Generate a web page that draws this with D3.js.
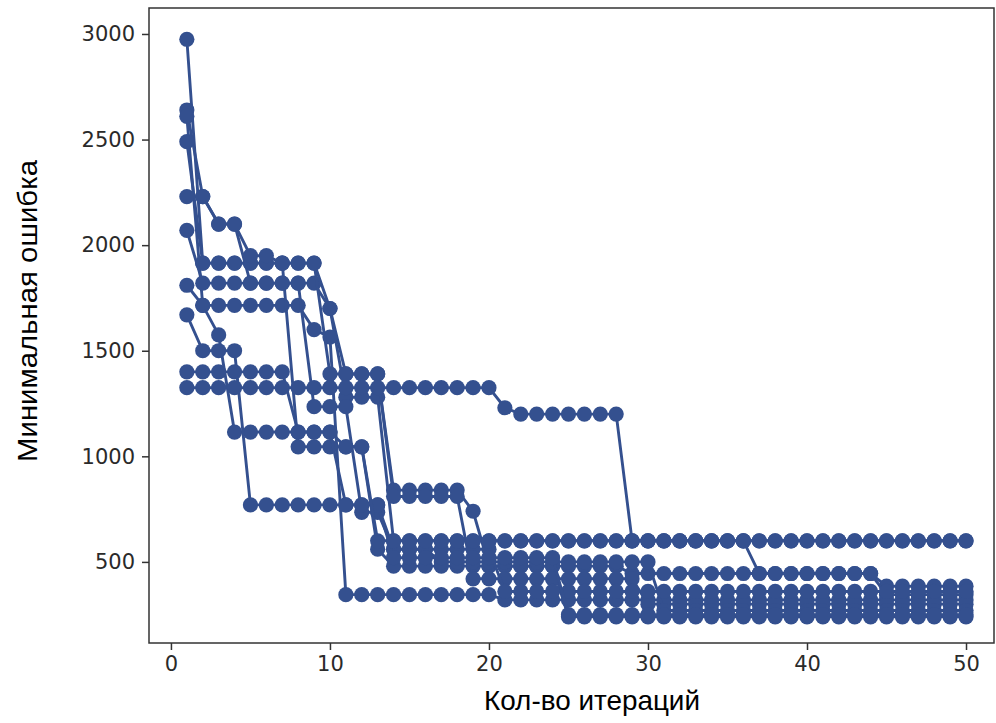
<!DOCTYPE html>
<html>
<head>
<meta charset="utf-8">
<script src="https://cdn.jsdelivr.net/npm/d3@7/dist/d3.min.js"></script>
<style>
  body { margin: 0; background: #ffffff; }
  svg { display: block; }
</style>
</head>
<body>
<svg id="chart" width="996" height="723"></svg>
<script>
// Iteration numbers on the x axis
const iterations = [1,2,3,4,5,6,7,8,9,10,11,12,13,14,15,16,17,18,19,20,
  21,22,23,24,25,26,27,28,29,30,31,32,33,34,35,36,37,38,39,40,
  41,42,43,44,45,46,47,48,49,50];

// Minimum error per iteration, one array per run
const run1 = [2975,1915,1915,1915,1915,1915,1915,1915,1915,1700,1390,1390,1390,840,840,840,840,840,740,480,
  480,480,480,480,480,480,480,480,445,445,445,445,445,445,445,445,445,445,445,445,
  445,445,445,445,385,385,385,385,385,385];
const run2 = [2640,2230,2100,2100,1820,1820,1820,1820,1820,1700,1280,1280,1280,600,600,600,600,600,600,600,
  600,600,600,600,600,600,600,600,600,600,600,600,600,600,600,600,445,445,445,445,
  445,445,445,445,345,345,345,345,345,345];
const run3 = [2610,1715,1715,1715,1715,1715,1715,1715,1600,1565,345,345,345,345,345,345,345,345,345,345,
  320,320,320,320,320,320,320,320,320,320,320,320,320,320,320,320,320,320,320,320,
  320,320,320,320,320,320,320,320,320,320];
const run4 = [2490,1915,1915,1915,1915,1915,1915,1045,1045,1045,1045,1045,560,480,480,480,480,480,480,480,
  480,480,480,480,240,240,240,240,240,240,240,240,240,240,240,240,240,240,240,240,
  240,240,240,240,240,240,240,240,240,240];
const run5 = [2230,2230,2100,2100,1950,1950,1915,1915,1915,1390,1390,1390,1390,810,810,810,810,810,420,420,
  420,420,420,420,420,420,420,420,420,300,300,300,300,300,300,300,300,300,300,300,
  300,300,300,300,300,300,300,300,300,300];
const run6 = [2070,1820,1820,1820,1820,1820,1820,1820,1235,1235,1235,735,735,560,560,560,500,500,500,500,
  500,500,500,500,500,500,500,500,500,500,270,270,270,270,270,270,270,270,270,270,
  270,270,270,270,270,270,270,270,270,270];
const run7 = [1810,1715,1575,1115,1115,1115,1115,1115,1115,1115,770,770,770,560,560,560,560,560,560,560,
  360,360,360,360,360,360,360,360,360,360,360,360,360,360,360,360,360,360,360,360,
  360,360,360,360,360,360,360,360,360,360];
const run8 = [1670,1500,1500,1500,770,770,770,770,770,770,770,770,770,520,520,520,520,520,520,520,
  520,520,520,520,250,250,250,250,250,250,250,250,250,250,250,250,250,250,250,250,
  250,250,250,250,250,250,250,250,250,250];
const run9 = [1400,1400,1400,1400,1400,1400,1400,1115,1115,1115,1045,1045,600,600,600,600,600,600,600,600,
  600,600,600,600,600,600,600,600,600,600,600,600,600,600,600,600,600,600,600,600,
  600,600,600,600,600,600,600,600,600,600];
const run10 = [1325,1325,1325,1325,1325,1325,1325,1325,1325,1325,1325,1325,1325,1325,1325,1325,1325,1325,1325,1325,
  1230,1200,1200,1200,1200,1200,1200,1200,600,600,600,600,600,600,600,600,600,600,600,600,
  600,600,600,600,600,600,600,600,600,600];

const runs = [run1, run2, run3, run4, run5, run6, run7, run8, run9, run10];

// Axis tick values
const xTicks = [0, 10, 20, 30, 40, 50];
const yTicks = [500, 1000, 1500, 2000, 2500, 3000];

const xTitle = "Кол-во итераций";
const yTitle = "Минимальная ошибка";

const color = "#34508f";

const svg = d3.select("#chart");

const x = d3.scaleLinear().domain([-1.38, 51.76]).range([149, 994]);
const y = d3.scaleLinear().domain([116, 3123]).range([643, 8]);

const tickFont = "'DejaVu Sans', sans-serif";

// Data: each run is a line with round markers
const line = d3.line()
  .x((d, i) => x(iterations[i]))
  .y(d => y(d));

const plot = svg.append("g");
runs.forEach(run => {
  const g = plot.append("g");
  g.append("path")
    .attr("d", line(run))
    .attr("fill", "none")
    .attr("stroke", color)
    .attr("stroke-width", 2.9)
    .attr("stroke-linejoin", "round");
  g.selectAll("circle")
    .data(run)
    .join("circle")
    .attr("cx", (d, i) => x(iterations[i]))
    .attr("cy", d => y(d))
    .attr("r", 7.6)
    .attr("fill", color);
});

// Axes
const xAxis = svg.append("g")
  .attr("transform", `translate(0,${y.range()[0]})`)
  .call(d3.axisBottom(x).tickValues(xTicks).tickFormat(d3.format("d")).tickSize(7).tickPadding(6));
const yAxis = svg.append("g")
  .attr("transform", `translate(${x.range()[0]},0)`)
  .call(d3.axisLeft(y).tickValues(yTicks).tickFormat(d3.format("d")).tickSize(7).tickPadding(7));

[xAxis, yAxis].forEach(a => {
  a.select(".domain").remove();
  a.selectAll(".tick line").attr("stroke", "#333").attr("stroke-width", 1.5);
  a.selectAll(".tick text")
    .attr("fill", "#2a2a2a")
    .style("font-family", tickFont)
    .style("font-size", "21px");
});

// Frame
svg.append("rect")
  .attr("x", x.range()[0])
  .attr("y", y.range()[1])
  .attr("width", x.range()[1] - x.range()[0])
  .attr("height", y.range()[0] - y.range()[1])
  .attr("fill", "none")
  .attr("stroke", "#333")
  .attr("stroke-width", 1.5);

// Axis titles
svg.append("text")
  .attr("x", 592)
  .attr("y", 710)
  .attr("text-anchor", "middle")
  .attr("textLength", 216)
  .attr("lengthAdjust", "spacingAndGlyphs")
  .style("font-family", "'Liberation Sans', Arial, sans-serif")
  .style("font-size", "28px")
  .attr("fill", "#000")
  .text(xTitle);

svg.append("text")
  .attr("transform", "translate(37,311) rotate(-90)")
  .attr("text-anchor", "middle")
  .attr("textLength", 302)
  .attr("lengthAdjust", "spacingAndGlyphs")
  .style("font-family", "'Liberation Sans', Arial, sans-serif")
  .style("font-size", "28px")
  .attr("fill", "#000")
  .text(yTitle);
</script>
</body>
</html>
